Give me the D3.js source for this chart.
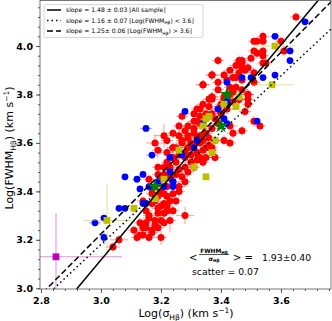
<!DOCTYPE html>
<html><head><meta charset="utf-8">
<script src="https://cdn.jsdelivr.net/npm/d3@7"></script>
<style>body{margin:0;background:#fff}svg{display:block;font-family:"DejaVu Sans",sans-serif}</style>
</head><body>
<svg id="c" width="332" height="321"></svg>
<script>
// [x, y, xerr, yerr]  (log sigma, log FWHM)
const redPts = [
[3.65,4.12,0.02,0.02],[3.51,4.02,0.02,0.015],[3.54,4.02,0.015,0.015],[3.60,4.02,0.02,0.02],[3.51,3.98,0.02,0.015],
[3.54,3.98,0.015,0.015],[3.61,3.98,0.02,0.02],[3.54,3.96,0.02,0.02],[3.55,3.93,0.02,0.02],[3.47,3.93,0.02,0.015],
[3.39,3.94,0.02,0.02],[3.48,3.90,0.015,0.015],[3.45,3.87,0.02,0.02],[3.45,3.83,0.02,0.02],[3.51,3.85,0.02,0.02],
[3.47,3.82,0.02,0.015],[3.43,3.83,0.02,0.02],[3.37,3.88,0.02,0.02],[3.34,3.84,0.025,0.02],[3.37,3.79,0.02,0.02],
[3.49,3.80,0.02,0.02],[3.46,3.78,0.02,0.02],[3.54,4.04,0.02,0.02],[3.52,4.02,0.02,0.015],[3.47,3.94,0.02,0.02],
[3.46,3.94,0.02,0.02],[3.49,3.91,0.02,0.02],[3.47,3.91,0.02,0.02],[3.54,3.93,0.02,0.02],[3.46,3.89,0.02,0.02],
[3.51,3.89,0.02,0.02],[3.44,3.87,0.02,0.02],[3.37,3.88,0.02,0.02],[3.34,3.84,0.02,0.02],[3.47,3.86,0.02,0.02],
[3.42,3.86,0.02,0.02],[3.44,3.81,0.02,0.02],[3.39,3.82,0.02,0.02],[3.41,3.79,0.02,0.02],[3.37,3.78,0.02,0.02],
[3.40,3.76,0.02,0.02],[3.36,3.75,0.02,0.02],[3.34,3.76,0.02,0.02],[3.31,3.72,0.02,0.02],[3.33,3.71,0.02,0.02],
[3.27,3.71,0.02,0.02],[3.29,3.67,0.02,0.02],[3.32,3.69,0.02,0.02],[3.34,3.67,0.02,0.02],[3.31,3.64,0.02,0.02],
[3.37,3.66,0.02,0.02],[3.39,3.68,0.02,0.02],[3.43,3.67,0.025,0.02],[3.44,3.64,0.02,0.02],[3.47,3.65,0.02,0.02],
[3.38,3.61,0.02,0.02],[3.41,3.61,0.02,0.02],[3.43,3.60,0.02,0.02],[3.33,3.60,0.02,0.02],[3.29,3.63,0.02,0.02],
[3.26,3.63,0.02,0.02],[3.35,3.58,0.02,0.02],[3.37,3.58,0.02,0.02],[3.29,3.58,0.02,0.02],[3.31,3.59,0.02,0.02],
[3.49,3.78,0.02,0.02],[3.21,3.63,0.035,0.05],[3.18,3.60,0.03,0.03],[3.19,3.57,0.02,0.03],[3.22,3.61,0.02,0.02],
[3.24,3.64,0.02,0.02],[3.26,3.67,0.02,0.02],[3.24,3.58,0.02,0.02],[3.27,3.61,0.02,0.02],[3.33,3.63,0.02,0.02],
[3.31,3.69,0.02,0.02],[3.33,3.74,0.02,0.02],[3.32,3.74,0.02,0.02],[3.35,3.72,0.02,0.02],[3.37,3.79,0.02,0.02],
[3.36,3.78,0.02,0.02],[3.49,3.76,0.02,0.02],[3.46,3.78,0.02,0.02],[3.51,3.69,0.02,0.02],[3.48,3.73,0.02,0.02],
[3.49,3.80,0.02,0.02],[3.53,3.67,0.02,0.02],
[3.19,3.50,0.02,0.02],[3.21,3.50,0.02,0.02],[3.19,3.47,0.02,0.02],[3.17,3.39,0.02,0.02],[3.19,3.38,0.02,0.02],
[3.21,3.39,0.02,0.02],[3.14,3.36,0.02,0.02],[3.17,3.35,0.02,0.02],[3.20,3.34,0.02,0.02],[3.15,3.32,0.02,0.02],
[3.19,3.31,0.02,0.02],[3.21,3.31,0.02,0.02],[3.16,3.29,0.02,0.02],[3.20,3.28,0.02,0.02],[3.13,3.27,0.02,0.02],
[3.15,3.25,0.02,0.02],[3.18,3.26,0.02,0.02],[3.21,3.27,0.02,0.02],[3.11,3.24,0.02,0.02],[3.13,3.22,0.02,0.02],
[3.14,3.22,0.02,0.02],[3.17,3.23,0.02,0.02],[3.20,3.21,0.02,0.03],[3.06,3.20,0.03,0.02],[3.04,3.17,0.025,0.02],
[3.22,3.32,0.02,0.02],[3.19,3.43,0.02,0.02],[3.21,3.35,0.02,0.02],[3.16,3.45,0.02,0.02],[3.17,3.41,0.02,0.02],
[3.23,3.50,0.02,0.02],[3.25,3.52,0.02,0.02],[3.26,3.49,0.02,0.02],[3.28,3.50,0.02,0.02],[3.32,3.53,0.02,0.02],
[3.34,3.52,0.02,0.02],[3.23,3.46,0.02,0.02],[3.26,3.42,0.02,0.02],[3.24,3.39,0.02,0.02],[3.23,3.36,0.02,0.02],
[3.25,3.36,0.02,0.02],[3.22,3.34,0.02,0.02],[3.24,3.32,0.02,0.02],[3.23,3.28,0.02,0.05],[3.28,3.30,0.03,0.035],
[3.24,3.58,0.02,0.02],[3.29,3.58,0.02,0.02],[3.35,3.54,0.02,0.02],[3.33,3.54,0.02,0.02],[3.22,3.56,0.02,0.02],
[3.28,3.54,0.02,0.02],[3.38,3.54,0.02,0.02],[3.37,3.57,0.02,0.02],
[3.20,3.45,0.02,0.02],[3.22,3.42,0.02,0.02],[3.24,3.44,0.02,0.02],[3.21,3.47,0.02,0.02],[3.23,3.49,0.02,0.02],
[3.25,3.47,0.02,0.02],[3.27,3.46,0.02,0.02],[3.22,3.52,0.02,0.02],[3.24,3.54,0.02,0.02],[3.26,3.55,0.02,0.02],
[3.28,3.56,0.02,0.02],[3.30,3.55,0.02,0.02],[3.25,3.58,0.02,0.02],[3.27,3.60,0.02,0.02],[3.30,3.60,0.02,0.02],
[3.32,3.62,0.02,0.02],[3.34,3.61,0.02,0.02],[3.35,3.64,0.02,0.02],[3.36,3.62,0.02,0.02],[3.31,3.66,0.02,0.02],
[3.33,3.68,0.02,0.02],[3.35,3.70,0.02,0.02],[3.37,3.72,0.02,0.02],[3.39,3.74,0.02,0.02],[3.38,3.70,0.02,0.02],
[3.40,3.72,0.02,0.02],[3.42,3.74,0.02,0.02],[3.41,3.78,0.02,0.02],[3.43,3.80,0.02,0.02],[3.44,3.77,0.02,0.02],
[3.39,3.85,0.02,0.02],[3.41,3.88,0.02,0.02],[3.43,3.90,0.02,0.02],[3.45,3.92,0.02,0.02],[3.50,3.95,0.02,0.02],
[3.52,3.97,0.02,0.02],[3.20,3.40,0.02,0.02],[3.18,3.36,0.02,0.02],[3.19,3.33,0.02,0.02],[3.16,3.30,0.02,0.02],
[3.18,3.28,0.02,0.02],[3.15,3.27,0.02,0.02],[3.17,3.24,0.02,0.02],[3.19,3.25,0.02,0.02],[3.14,3.25,0.02,0.02],
[3.12,3.21,0.02,0.02],[3.16,3.21,0.02,0.02],[3.22,3.38,0.02,0.02],[3.26,3.40,0.02,0.02],[3.28,3.44,0.02,0.02],
[3.29,3.48,0.02,0.02],[3.31,3.50,0.02,0.02],[3.30,3.52,0.02,0.02],[3.32,3.56,0.02,0.02],[3.34,3.57,0.02,0.02],
[3.36,3.59,0.02,0.02],[3.29,3.62,0.02,0.02],[3.28,3.65,0.02,0.02]
];
const bluePts = [
[3.15,3.66,0.02,0.01],[3.17,3.55,0.02,0.01],[3.68,4.10,0.015,0.01],[3.58,4.04,0.015,0.01],[3.63,3.98,0.015,0.01],
[3.63,3.94,0.01,0.015],[3.42,3.85,0.01,0.01],[3.47,3.87,0.01,0.01],[3.50,3.87,0.01,0.01],[3.54,3.87,0.01,0.01],
[3.58,3.88,0.01,0.01],[3.28,3.73,0.01,0.01],[3.39,3.74,0.01,0.01],[3.42,3.77,0.01,0.01],[3.41,3.70,0.01,0.01],
[3.42,3.68,0.01,0.02],[3.34,3.68,0.01,0.01],[3.52,3.69,0.01,0.01],[3.31,3.58,0.01,0.01],[3.32,3.61,0.01,0.01],
[3.23,3.54,0.01,0.01],[3.27,3.55,0.01,0.01],[3.08,3.46,0.01,0.01],[3.12,3.45,0.015,0.01],[3.14,3.47,0.01,0.01],
[3.13,3.41,0.01,0.01],[3.16,3.42,0.01,0.01],[3.19,3.44,0.01,0.01],[3.21,3.42,0.01,0.01],[3.06,3.33,0.01,0.01],
[3.08,3.33,0.01,0.01],[3.14,3.35,0.01,0.01],[3.15,3.35,0.01,0.01],[2.98,3.27,0.02,0.015],[3.01,3.29,0.01,0.01],
[3.01,3.21,0.01,0.03],[3.23,3.48,0.01,0.01],[3.24,3.44,0.01,0.02],[3.24,3.42,0.01,0.01]
];
const yellowPts = [
[3.58,4.00,0.07,0.01],[3.57,3.84,0.07,0.01],[3.46,3.79,0.02,0.01],[3.45,3.75,0.02,0.01],[3.41,3.76,0.02,0.01],
[3.36,3.71,0.02,0.01],[3.35,3.70,0.02,0.01],[3.34,3.67,0.02,0.01],[3.38,3.61,0.02,0.01],[3.26,3.57,0.02,0.01],
[3.37,3.56,0.02,0.01],[3.11,3.33,0.02,0.01],[3.02,3.28,0.08,0.15],[3.18,3.37,0.02,0.01],[3.21,3.45,0.02,0.01],
[3.31,3.50,0.01,0.01],[3.35,3.46,0.01,0.01]
];
const greenPts = [[3.42,3.80],[3.40,3.67],[3.18,3.42]];
const magentaPts = [[2.85,3.13,0.22,0.18]];
// fits
const fitSlopes = [1.48, 1.16, 1.25];
const fitIntercepts = [-1.323, -0.299, -0.526];
const fitLabels = ["slope = 1.48 ± 0.03 [All sample]", "slope = 1.16 ± 0.07 [Log(FWHM", "slope = 1.25± 0.06 [Log(FWHM"];
const fitLabelTails = ["", ") < 3.6]", ") > 3.6]"];
const xTicks = [2.8, 3.0, 3.2, 3.4, 3.6];
const yTicks = [3.0, 3.2, 3.4, 3.6, 3.8, 4.0];

const svg = d3.select("#c");
const L = 40, R = 331, T = 0.5, B = 289;
const x = d3.scaleLinear().domain([2.7967, 3.7667]).range([L, R]);
const y = d3.scaleLinear().domain([2.997, 4.188]).range([B, T]);

svg.append("defs").append("clipPath").attr("id","clip").append("rect")
  .attr("x", L).attr("y", T).attr("width", R-L).attr("height", B-T);
const plot = svg.append("g").attr("clip-path","url(#clip)");

function series(data, color, errColor, shape, size) {
  const g = plot.append("g");
  data.forEach(d => {
    g.append("line").attr("x1", x(d[0]-d[2])).attr("x2", x(d[0]+d[2])).attr("y1", y(d[1])).attr("y2", y(d[1]))
      .attr("stroke", errColor).attr("stroke-width", 1);
    g.append("line").attr("x1", x(d[0])).attr("x2", x(d[0])).attr("y1", y(d[1]-d[3])).attr("y2", y(d[1]+d[3]))
      .attr("stroke", errColor).attr("stroke-width", 1);
  });
  data.forEach(d => {
    if (shape === "circle") g.append("circle").attr("cx", x(d[0])).attr("cy", y(d[1])).attr("r", size).attr("fill", color);
    else g.append("rect").attr("x", x(d[0])-size).attr("y", y(d[1])-size).attr("width", 2*size).attr("height", 2*size).attr("fill", color);
  });
}
series(redPts, "#ff0000", "rgba(255,0,0,0.4)", "circle", 3.5);
series(bluePts, "#0000ff", "rgba(0,0,255,0.4)", "circle", 3.4);
series(yellowPts, "#bfbf00", "rgba(191,191,0,0.45)", "square", 3.4);
series(magentaPts, "#bf00bf", "rgba(191,0,191,0.45)", "square", 3.4);
const star = d3.symbol().type(d3.symbolStar).size(70);
plot.append("g").selectAll("path").data(greenPts).join("path")
  .attr("d", star).attr("transform", d => `translate(${x(d[0])},${y(d[1])})`).attr("fill", "#008000");

const dashes = [null, "1.5,3", "6,3"];
fitSlopes.forEach((s, i) => {
  const x0 = 2.7, x1 = 3.9;
  plot.append("line").attr("x1", x(x0)).attr("y1", y(s*x0 + fitIntercepts[i]))
    .attr("x2", x(x1)).attr("y2", y(s*x1 + fitIntercepts[i]))
    .attr("stroke", "#000").attr("stroke-width", 1.5).attr("stroke-dasharray", dashes[i]);
});

// frame
svg.append("rect").attr("x", L).attr("y", T).attr("width", R-L).attr("height", B-T)
  .attr("fill", "none").attr("stroke", "#555").attr("stroke-width", 0.8);

// axes
const xAx = svg.append("g").attr("transform", `translate(0,${B})`);
xAx.call(d3.axisBottom(x).tickValues(d3.range(2.8, 3.77, 0.04)).tickSize(2).tickFormat(""));
xAx.call(g => g.append("g").call(d3.axisBottom(x).tickValues(xTicks).tickSize(4).tickFormat(d3.format(".1f"))));
xAx.selectAll(".domain").remove();
xAx.selectAll("line").attr("stroke", "#555");
xAx.selectAll("text").attr("font-family","DejaVu Sans").attr("font-weight","bold").attr("font-size", 9.5).attr("fill","#000").attr("dy","0.85em");

const yAx = svg.append("g").attr("transform", `translate(${L},0)`);
yAx.call(d3.axisLeft(y).tickValues(d3.range(3.0, 4.19, 0.04)).tickSize(2).tickFormat(""));
yAx.call(g => g.append("g").call(d3.axisLeft(y).tickValues(yTicks).tickSize(4).tickFormat(d3.format(".1f"))));
yAx.selectAll(".domain").remove();
yAx.selectAll("line").attr("stroke", "#555");
yAx.selectAll("text").attr("font-family","DejaVu Sans").attr("font-weight","bold").attr("font-size", 9.5).attr("fill","#000");

// axis titles
const xt = svg.append("text").attr("x", 186).attr("y", 317).attr("text-anchor","middle").attr("font-size", 11);
xt.append("tspan").text("Log(σ");
xt.append("tspan").attr("font-size", 7.5).attr("dy", 2.5).text("Hβ");
xt.append("tspan").attr("dy", -2.5).text(") (km s");
xt.append("tspan").attr("font-size", 7.5).attr("dy", -4).text("−1");
xt.append("tspan").attr("dy", 4).text(")");

const yt = svg.append("text").attr("transform", "translate(13,148) rotate(-90)").attr("text-anchor","middle").attr("font-size", 11);
yt.append("tspan").text("Log(FWHM");
yt.append("tspan").attr("font-size", 7.5).attr("dy", 2.5).text("Hβ");
yt.append("tspan").attr("dy", -2.5).text(") (km s");
yt.append("tspan").attr("font-size", 7.5).attr("dy", -4).text("−1");
yt.append("tspan").attr("dy", 4).text(")");

// legend
const lg = svg.append("g");
lg.append("rect").attr("x", 44).attr("y", 4.5).attr("width", 159).attr("height", 33).attr("rx", 1.5)
  .attr("fill", "rgba(255,255,255,0.85)").attr("stroke", "#ccc").attr("stroke-width", 0.8);
const rowsY = [10, 20.5, 31];
fitLabels.forEach((t, i) => {
  lg.append("line").attr("x1", 47).attr("x2", 61).attr("y1", rowsY[i]).attr("y2", rowsY[i])
    .attr("stroke", "#000").attr("stroke-width", 1.5).attr("stroke-dasharray", dashes[i]);
  const tx = lg.append("text").attr("x", 66).attr("y", rowsY[i] + 2.3).attr("font-size", 6.1);
  tx.append("tspan").text(t);
  if (fitLabelTails[i]) {
    tx.append("tspan").attr("font-size", 4.4).attr("dy", 1.5).text("Hβ");
    tx.append("tspan").attr("dy", -1.5).text(fitLabelTails[i]);
  }
});

// annotation
const an = svg.append("g");
an.append("text").attr("x", 189).attr("y", 261).attr("font-size", 10).text("<");
an.append("text").attr("x", 214).attr("y", 252.5).attr("text-anchor","middle").attr("font-size", 5.8).attr("font-weight","bold")
  .call(t => { t.append("tspan").text("FWHM"); t.append("tspan").attr("font-size", 4.2).attr("dy", 1).text("Hβ"); });
an.append("line").attr("x1", 199).attr("x2", 229).attr("y1", 254.5).attr("y2", 254.5).attr("stroke", "#000").attr("stroke-width", 0.7);
an.append("text").attr("x", 214).attr("y", 261).attr("text-anchor","middle").attr("font-size", 5.8).attr("font-weight","bold")
  .call(t => { t.append("tspan").text("σ"); t.append("tspan").attr("font-size", 4.2).attr("dy", 1).text("Hβ"); });
an.append("text").attr("x", 233).attr("y", 261).attr("font-size", 10).text("> =");
an.append("text").attr("x", 262).attr("y", 261).attr("font-size", 9.3).text("1.93±0.40");
an.append("text").attr("x", 192).attr("y", 275).attr("font-size", 9.3).text("scatter = 0.07");
</script>
</body></html>
